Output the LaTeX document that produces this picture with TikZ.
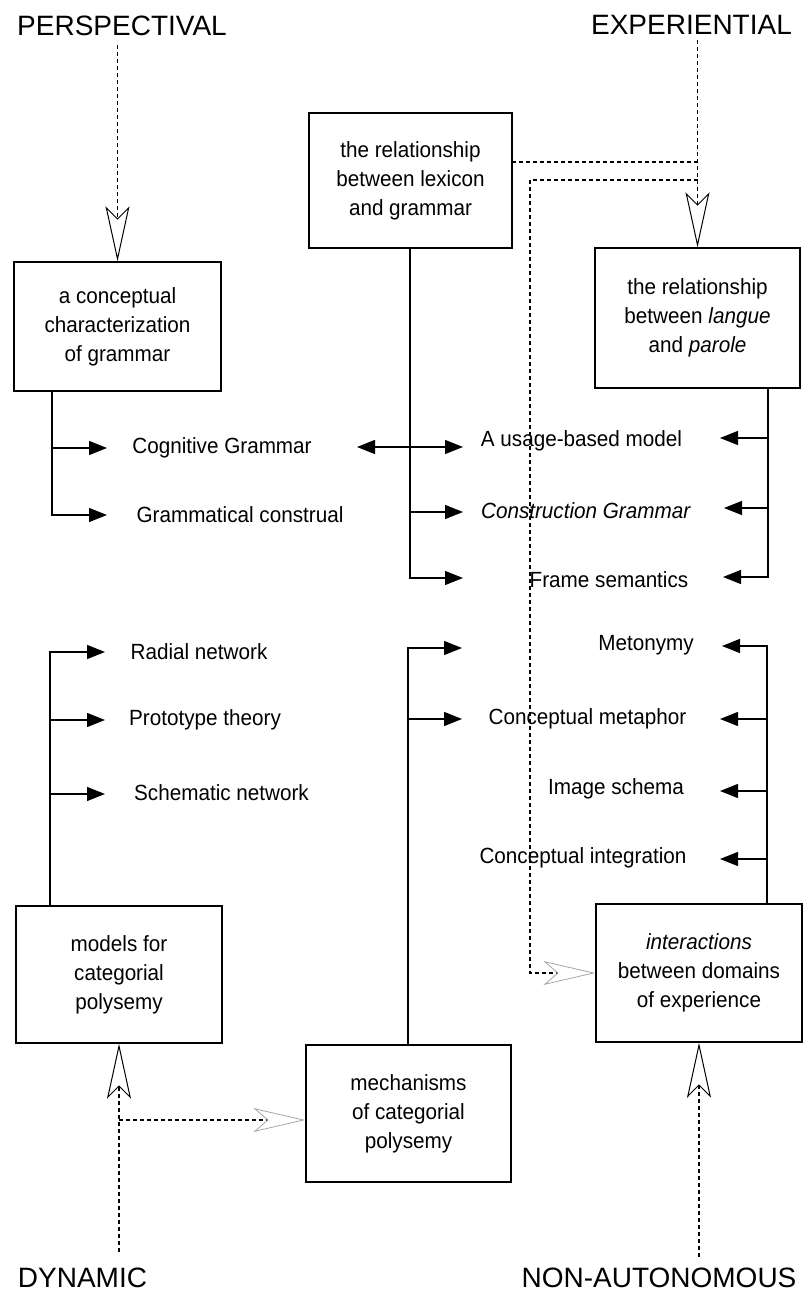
\documentclass[tikz,border=0pt]{standalone}
\usepackage{fontspec}
\setmainfont{Liberation Sans}
\newfontfamily\bodyfont[FakeStretch=0.94]{Liberation Sans}
\usetikzlibrary{arrows.meta,calc}
\begin{document}
\begin{tikzpicture}[x=1pt,y=-1pt,
  box/.style={draw,line width=1.4pt,align=center,inner sep=0pt,font=\bodyfont\fontsize{22}{29}\selectfont},
  lbl/.style={font=\bodyfont\fontsize{22}{25}\selectfont,inner sep=0pt},
  head/.style={font=\fontsize{28}{30}\selectfont,inner sep=0pt},
  tree/.style={line width=1.3pt},
  tip/.style={-{Triangle[length=18pt,width=14pt]}},
  dline/.style={line width=1.4pt,dash pattern=on 4pt off 3pt},
  oarrow/.style={-{Stealth[open,length=55pt,width=24pt,inset=12pt,line width=1pt]}},
  farrow/.style={-{Stealth[open,length=52pt,width=24pt,inset=14pt,line width=0.8pt,color=gray!70]}}
]
\useasboundingbox (0,0) rectangle (803,1293);

% headings
\node[head] (persp) at (122,26) {PERSPECTIVAL};
\node[head] (exper) at (691.5,25) {EXPERIENTIAL};
\node[head] (dyn) at (82.5,1278) {DYNAMIC};
\node[head] (nonaut) at (659,1278) {NON-AUTONOMOUS};

% boxes
\node[box,minimum width=207pt,minimum height=129pt] (b1) at (117.5,326.5) {a conceptual\\characterization\\of grammar};
\node[box,minimum width=203pt,minimum height=135pt] (b2) at (410.5,180.5) {the relationship\\between lexicon\\and grammar};
\node[box,minimum width=205pt,minimum height=140pt] (b3) at (697.5,318) {the relationship\\between \textit{langue}\\and \textit{parole}};
\node[box,minimum width=206pt,minimum height=138pt] (b4) at (699,973) {\textit{interactions}\\between domains\\of experience};
\node[box,minimum width=206pt,minimum height=137pt] (b5) at (119,974.5) {models for\\categorial\\polysemy};
\node[box,minimum width=205pt,minimum height=137pt] (b6) at (408.5,1113.5) {mechanisms\\of categorial\\polysemy};

% labels
\node[lbl] (cg) at (222,448) {Cognitive Grammar};
\node[lbl] (gc) at (240,515) {Grammatical construal};
\node[lbl] (us) at (581.5,441) {A usage-based model};
\node[lbl] (cn) at (586,511) {\textit{Construction Grammar}};
\node[lbl] (fr) at (609,580) {Frame semantics};
\node[lbl] (me) at (646,645) {Metonymy};
\node[lbl] (cm) at (587.5,719) {Conceptual metaphor};
\node[lbl] (is) at (616,789) {Image schema};
\node[lbl] (ci) at (583,858) {Conceptual integration};
\node[lbl] (rn) at (199,652) {Radial network};
\node[lbl] (pt) at (205,720) {Prototype theory};
\node[lbl] (sn) at (221.5,793) {Schematic network};

% coordinates
\coordinate (k1) at (52,448);
\coordinate (cgT) at (107,448);
\coordinate (gcT) at (107,515);
\coordinate (k2) at (410,446);
\coordinate (cgR) at (357,447);
\coordinate (usL) at (463,447);
\coordinate (cnL) at (463,512);
\coordinate (frL) at (463,578);
\coordinate (k3) at (768,438);
\coordinate (usR) at (720,438);
\coordinate (cnR) at (724,508);
\coordinate (frR) at (723,577);
\coordinate (k4) at (408,648);
\coordinate (meL) at (462,648);
\coordinate (cmL) at (462,719);
\coordinate (k5) at (767,700);
\coordinate (meR) at (722,646);
\coordinate (cmR) at (720,719);
\coordinate (isR) at (720,791);
\coordinate (ciR) at (720,859);
\coordinate (k6) at (50,700);
\coordinate (rnT) at (105,652);
\coordinate (ptT) at (105,720);
\coordinate (snT) at (105,794);

% left upper tree
\draw[tree,tip] (b1.south -| k1) |- (gcT);
\draw[tree,tip] (k1) -- (cgT);
% middle upper tree
\draw[tree,tip] (b2.south -| k2) |- (frL);
\draw[tree,tip] (k2 |- cnL) -- (cnL);
\draw[tree,{Triangle[length=18pt,width=14pt]}-{Triangle[length=18pt,width=14pt]}] (cgR) -- (usL);
% right upper tree
\draw[tree,tip] (b3.south -| k3) |- (frR);
\draw[tree,tip] (k3) -- (usR);
\draw[tree,tip] (k3 |- cnR) -- (cnR);
% middle lower tree
\draw[tree,tip] (b6.north -| k4) |- (meL);
\draw[tree,tip] (k4 |- cmL) -- (cmL);
% right lower tree
\draw[tree,tip] (b4.north -| k5) |- (meR);
\draw[tree,tip] (k5 |- cmR) -- (cmR);
\draw[tree,tip] (k5 |- isR) -- (isR);
\draw[tree,tip] (k5 |- ciR) -- (ciR);
% left lower tree
\draw[tree,tip] (b5.north -| k6) |- (rnT);
\draw[tree,tip] (k6 |- ptT) -- (ptT);
\draw[tree,tip] (k6 |- snT) -- (snT);

% dashed connectors
\coordinate (pS) at (119,45);
\draw[dline,oarrow] (pS -| b1.north) -- (b1.north);
\coordinate (eS) at (697.5,40);
\coordinate (e1) at (697.5,162);
\coordinate (e2) at (697.5,180);
\coordinate (d1) at (530,180);
\draw[dline,oarrow] (eS -| b3.north) -- (b3.north);
\draw[dline] (e1) -- (b2.east |- e1);
\draw[dline] (e2) -- (d1);
\draw[dline,farrow] (d1) |- (b4.west);
\coordinate (dS) at (119,1252);
\coordinate (d2) at (119,1120);
\draw[dline,oarrow] (dS -| b5.south) -- (b5.south);
\draw[dline,farrow] (d2) -- (b6.west |- d2);
\coordinate (nS) at (699,1257);
\draw[dline,oarrow] (nS -| b4.south) -- (b4.south);
\end{tikzpicture}
\end{document}
